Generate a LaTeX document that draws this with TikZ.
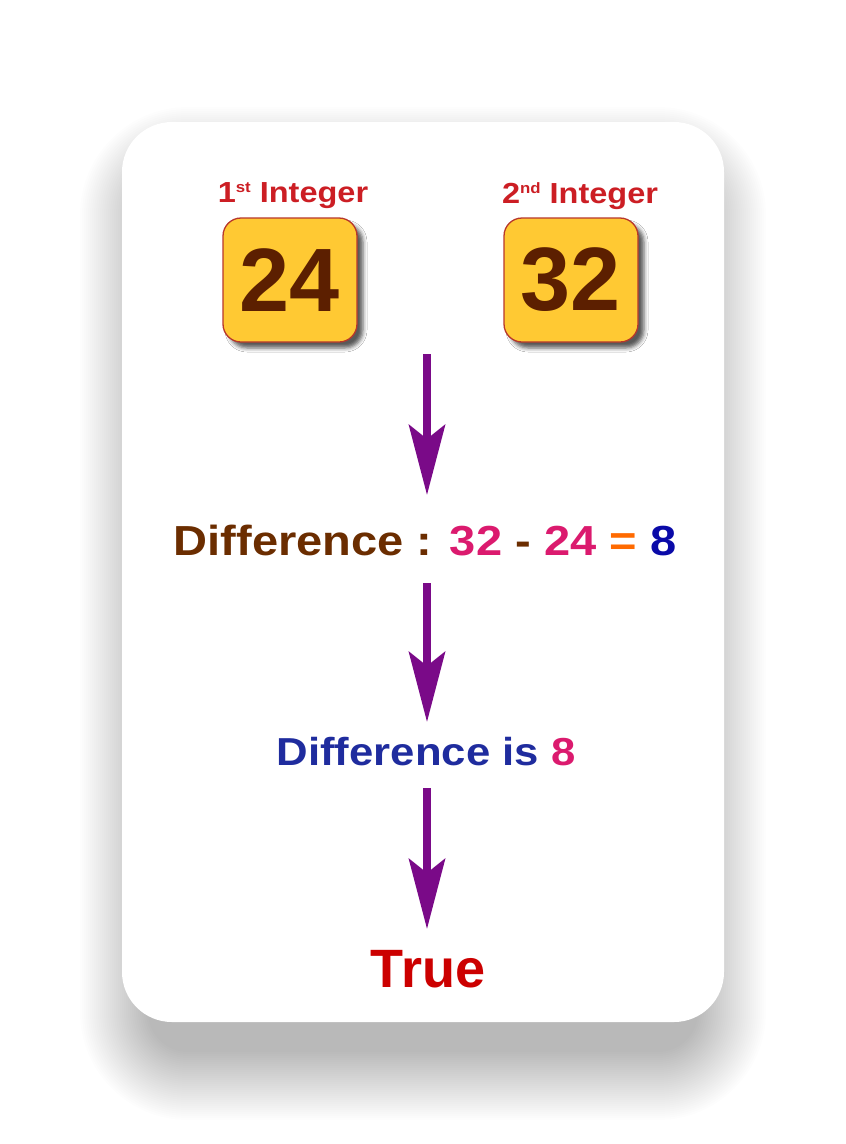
\documentclass[tikz,border=0pt]{standalone}
\usepackage{fontspec}
\setmainfont{Liberation Sans}
\newfontfamily\widefont{Liberation Sans}[FakeStretch=1.12]
\usetikzlibrary{arrows.meta,shadows.blur}
\definecolor{boxfill}{HTML}{FFC933}
\definecolor{boxline}{HTML}{B8372A}
\definecolor{numcol}{HTML}{5C1F00}
\definecolor{labred}{HTML}{CC1E24}
\definecolor{diffbrown}{HTML}{6B2D00}
\definecolor{pinkc}{HTML}{DB1A6E}
\definecolor{orangec}{HTML}{FF6A00}
\definecolor{navyc}{HTML}{0A0AA8}
\definecolor{bluec}{HTML}{1F2C9E}
\definecolor{truered}{HTML}{CC0000}
\definecolor{arrowc}{HTML}{7A0A88}
\tikzset{
  txt/.style={inner sep=0pt, anchor=base, font=\widefont\bfseries},
  numbox/.style={draw=boxline, line width=1.3pt, fill=boxfill, rounded corners=18pt,
    minimum width=134pt, minimum height=124pt, inner sep=0pt,
    text=numcol, font=\fontsize{90}{90}\selectfont\bfseries,
    blur shadow={shadow xshift=6pt, shadow yshift=-6pt, shadow blur radius=4pt, shadow opacity=65}},
  flow/.style={draw=arrowc, line width=8pt, -{Stealth[length=70pt, width=36pt, inset=14pt]}},
  shadowlayer/.style={fill=black, fill opacity=0.0085},
}
\begin{document}
\begin{tikzpicture}[x=1pt, y=-1pt]
\useasboundingbox (0,0) rectangle (846,1144);
\fill[white] (0,0) rectangle (846,1144);
% card shadow, built from stacked translucent layers
\foreach \i in {0,...,34}{
  \pgfmathsetmacro{\e}{2*\i}
  \pgfmathsetmacro{\rr}{40+\e}
  \fill[shadowlayer, rounded corners=\rr pt]
    (148-\e, 175-\e) rectangle (698+\e, 1052+\e);
}
% card
\path[fill=white, rounded corners=50pt] (122,122) rectangle (724,1022);
% labels
\node[txt, text=labred, font=\widefont\bfseries\fontsize{29}{29}\selectfont] (l1) at (293,202)
  {1\raisebox{9.5pt}{\fontsize{15}{15}\selectfont st} Integer};
\node[txt, text=labred, font=\widefont\bfseries\fontsize{29}{29}\selectfont] (l2) at (580,203)
  {2\raisebox{9.5pt}{\fontsize{15}{15}\selectfont nd} Integer};
% boxes
\node[numbox] (b1) at (290,280) {24};
\node[numbox] (b2) at (571,280) {32};
% difference line
\node[txt, font=\widefont\bfseries\fontsize{42}{42}\selectfont] (d) at (425,555)
  {\textcolor{diffbrown}{Difference :} \textcolor{pinkc}{32} \textcolor{diffbrown}{-} \textcolor{pinkc}{24} \textcolor{orangec}{=} \textcolor{navyc}{8}};
\node[txt, font=\widefont\bfseries\fontsize{39}{39}\selectfont] (r) at (426,765)
  {\textcolor{bluec}{Difference is} \textcolor{pinkc}{8}};
\node[txt, text=truered, font=\bfseries\fontsize{54}{54}\selectfont] (t) at (428,987) {True};
% arrow anchors
\coordinate (a1s) at (427,354);
\coordinate (a1e) at (427,495);
\coordinate (a2s) at (427,583);
\coordinate (a2e) at (427,722);
\coordinate (a3s) at (427,788);
\coordinate (a3e) at (427,929);
\draw[flow] (a1s) -- (a1e);
\draw[flow] (a2s) -- (a2e);
\draw[flow] (a3s) -- (a3e);
\end{tikzpicture}
\end{document}
